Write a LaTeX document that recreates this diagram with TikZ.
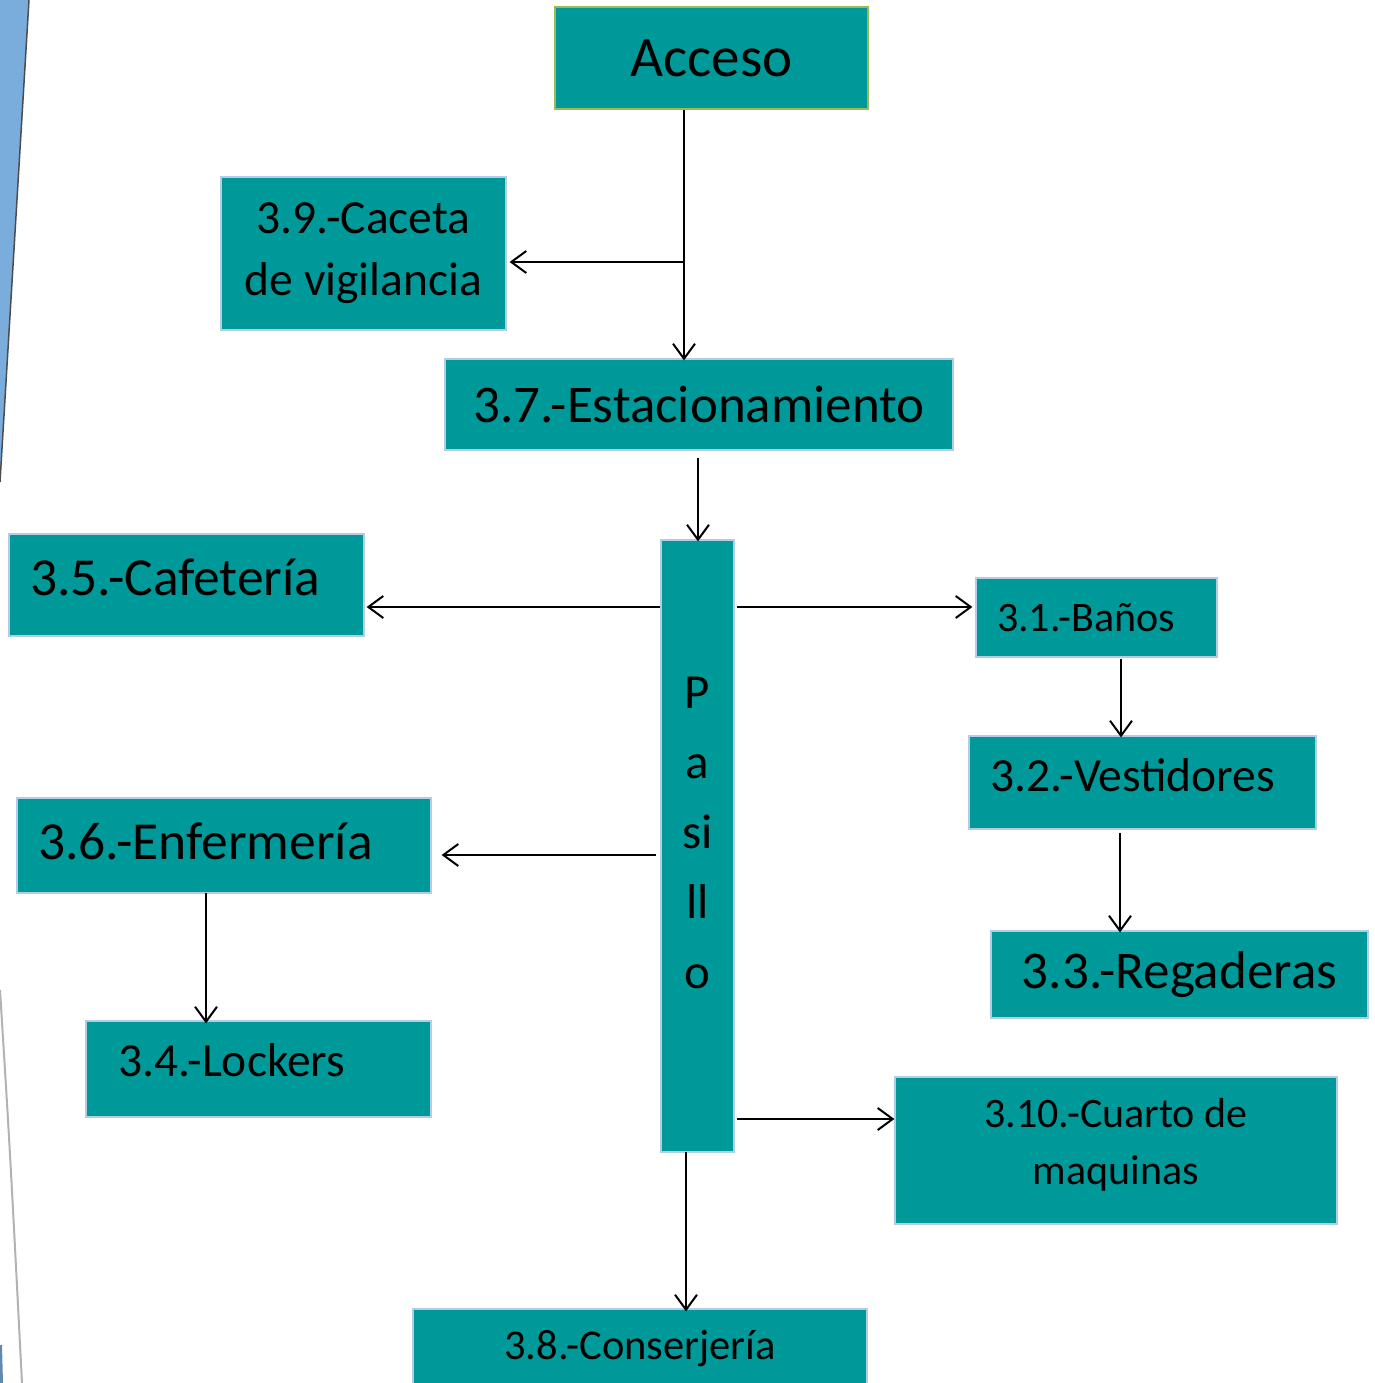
\documentclass[tikz,border=0pt]{standalone}
\usepackage{fontspec}
\setmainfont{Carlito}
\usetikzlibrary{positioning,arrows.meta}

\definecolor{tealbox}{RGB}{0,153,153}
\definecolor{boxedge}{RGB}{180,205,230}
\definecolor{accedge}{RGB}{155,187,89}
\definecolor{sideblue}{RGB}{122,172,220}
\newcommand{\fsz}[2]{\fontsize{#1}{#2}\selectfont}

\begin{document}
\begin{tikzpicture}[
        x=1pt, y=-1pt,
        box/.style={rectangle, draw=boxedge, fill=tealbox, line width=1.2pt, inner sep=0pt, align=center},
        leftbox/.style={box, align=left, text width=#1},
        arr/.style={-{Straight Barb[length=15pt,width=22pt]}, line width=2pt},
        link/.style={line width=2pt}
    ]
    \useasboundingbox (0,0) rectangle (1374,1383);

    % side decoration
    \fill[sideblue] (0,0) -- (29,0) -- (0,482) -- cycle;
    \draw[black!70, line width=1.5pt] (29,0) -- (0,482);
    \draw[black!30, line width=2pt] (0,990) .. controls (10,1150) .. (22,1383);
    \fill[sideblue!80!black] (0,1345) -- (2,1345) -- (3,1383) -- (0,1383) -- cycle;

    % top part
    \node[box, draw=accedge, minimum width=313, minimum height=102, font=\fsz{57}{68}] (acceso) at (711.5,58) {Acceso};
    \node[box, minimum width=285, minimum height=153, font=\fsz{47.5}{62}] (caseta) at (363.5,253.5) {3.9.-Caceta\\de vigilancia};
    \node[box, minimum width=508, minimum height=91, font=\fsz{53}{64}] (estac) at (699,404.5) {3.7.-Estacionamiento};

    % hallway
    \node[box, minimum width=73, minimum height=612, text depth=26, font=\fsz{49}{70}] (pasillo) at (697.5,846) {P\\a\\si\\ll\\o};

    % left side
    \node[leftbox=313, minimum width=355, minimum height=102, text depth=16, font=\fsz{53.5}{64}] (cafe) at (186.5,585) {3.5.-Cafetería};
    \node[leftbox=372, minimum width=414, minimum height=95, text depth=8, font=\fsz{53.5}{64}] (enfer) at (224,845.5) {3.6.-Enfermería};
    \node[leftbox=281, minimum width=345, minimum height=96, text depth=18, font=\fsz{47.5}{58}] (lockers) at (258.5,1069) {3.4.-Lockers};

    % right side
    \node[leftbox=199, minimum width=241, minimum height=79, font=\fsz{42}{52}] (banos) at (1096.5,617.5) {3.1.-Baños};
    \node[leftbox=305, minimum width=347, minimum height=93, text depth=14, font=\fsz{47.5}{58}] (vest) at (1142.5,782.5) {3.2.-Vestidores};
    \node[box, minimum width=377, minimum height=87, font=\fsz{53}{64}] (regad) at (1179.5,974.5) {3.3.-Regaderas};
    \node[box, minimum width=442, minimum height=147, text depth=18, font=\fsz{42}{57}] (maquinas) at (1116,1150.5) {3.10.-Cuarto de\\maquinas};

    % bottom
    \node[box, minimum width=454, minimum height=80, font=\fsz{42.5}{52}] (conserje) at (640,1349) {3.8.-Conserjería};

    % junctions
    \coordinate (j1) at (684,262);
    \coordinate (j2) at (698,458);
    \coordinate (j3) at (1121,659);
    \coordinate (j4) at (1120,833);
    \coordinate (j5) at (206,893);
    \coordinate (j6) at (686,1152);

    % connections
    \draw[link] (acceso.south -| j1) -- (j1);
    \draw[arr] (j1) -- ([yshift=-2]estac.north -| j1);
    \draw[arr] (j1) -- ([xshift=3]caseta.east |- j1);
    \draw[arr] (j2) -- ([yshift=-2]pasillo.north -| j2);
    \draw[arr] (pasillo.west |- 0,607) -- ([xshift=2]cafe.east |- 0,607);
    \draw[arr] ([xshift=2]pasillo.east |- 0,607) -- ([xshift=-3]banos.west |- 0,607);
    \draw[arr] (j3) -- ([yshift=-2]vest.north -| j3);
    \draw[arr] (j4) -- ([yshift=-2]regad.north -| j4);
    \draw[arr] ([xshift=-4]pasillo.west |- 0,855) -- ([xshift=10]enfer.east |- 0,855);
    \draw[arr] (j5) -- ([yshift=-3]lockers.north -| j5);
    \draw[arr] ([xshift=2]pasillo.east |- 0,1119) -- (maquinas.west |- 0,1119);
    \draw[arr] (j6) -- ([yshift=-3]conserje.north -| j6);

\end{tikzpicture}
\end{document}
